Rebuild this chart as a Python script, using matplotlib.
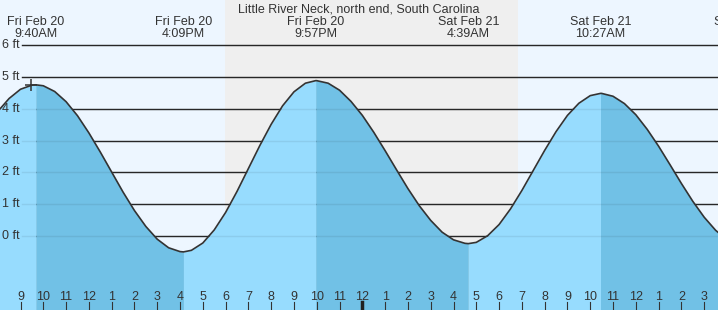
import matplotlib
matplotlib.use("Agg")
import matplotlib.pyplot as plt
import matplotlib.transforms as mtransforms
import numpy as np

plt.rcParams['font.family'] = ['Liberation Sans', 'DejaVu Sans']

title = "Little River Neck, north end, South Carolina"

# hours since Fri Feb 20 00:00, tide height in ft
hours = [8.0, 8.5, 9.0, 9.5, 9.667, 10.0, 10.5, 11.0, 11.5, 12.0, 12.5, 13.0,
         13.5, 14.0, 14.5, 15.0, 15.5, 16.0, 16.15, 16.5, 17.0, 17.5, 18.0,
         18.5, 19.0, 19.5, 20.0, 20.5, 21.0, 21.5, 21.95, 22.0, 22.5, 23.0,
         23.5, 24.0, 24.5, 25.0, 25.5, 26.0, 26.5, 27.0, 27.5, 28.0, 28.5,
         28.65, 29.0, 29.5, 30.0, 30.5, 31.0, 31.5, 32.0, 32.5, 33.0, 33.5,
         34.0, 34.45, 34.5, 35.0, 35.5, 36.0, 36.5, 37.0, 37.5, 38.0, 38.5,
         39.0, 39.5, 40.0]
height = [3.91, 4.32, 4.61, 4.74, 4.75, 4.72, 4.54, 4.22, 3.78, 3.24, 2.64, 2.01,
          1.38, 0.80, 0.30, -0.10, -0.37, -0.49, -0.50, -0.45, -0.22, 0.19, 0.74,
          1.40, 2.12, 2.84, 3.51, 4.09, 4.53, 4.80, 4.88, 4.88, 4.80, 4.58,
          4.23, 3.79, 3.26, 2.68, 2.08, 1.49, 0.95, 0.49, 0.12, -0.12, -0.23,
          -0.24, -0.20, 0.01, 0.36, 0.85, 1.43, 2.06, 2.69, 3.28, 3.79, 4.17,
          4.41, 4.48, 4.48, 4.39, 4.16, 3.81, 3.35, 2.82, 2.24, 1.65, 1.09,
          0.59, 0.18, -0.12]

# high / low events
event_hours = [9.667, 16.15, 21.95, 28.65, 34.45, 40.8]
event_day = ["Fri Feb 20", "Fri Feb 20", "Fri Feb 20", "Sat Feb 21", "Sat Feb 21", "Sat Feb 21"]
event_time = ["9:40AM", "4:09PM", "9:57PM", "4:39AM", "10:27AM", "4:48PM"]
falling = [(9.667, 16.15), (21.95, 28.65), (34.45, 40.0)]
rising = [(8.0, 9.667), (16.15, 21.95), (28.65, 34.45)]

night = (17.97, 30.83)
now_hour, now_ft = 9.46, 4.73
ft_levels = [0, 1, 2, 3, 4, 5, 6]
tick_hours = list(range(9, 40))

W, H = 718, 310
px = 22.79
x_lo = 9 - 20.5 / px
x_hi = 9 + (W - 20.5) / px
y_lo = -(H - 236) / 31.83
y_hi = 236 / 31.83

fig = plt.figure(figsize=(W / 100, H / 100), dpi=100)
fig.patch.set_facecolor('#EDF6FF')
ax = fig.add_axes([0, 0, 1, 1])
ax.set_xlim(x_lo, x_hi)
ax.set_ylim(y_lo, y_hi)
ax.axis('off')

ax.axvspan(night[0], night[1], color='#EFEFEF', zorder=0, lw=0)

for lv in ft_levels:
    ax.axhline(lv, xmin=22 / W, xmax=1, color='#2b2b2b', lw=1.0, zorder=1)
    ax.text(2 / W, lv, "%d ft" % lv, transform=mtransforms.blended_transform_factory(ax.transAxes, ax.transData),
            ha='left', va='center', fontsize=9, color='#333333')

h = np.array(hours)
v = np.array(height)
for a, b in rising:
    m = (h >= a) & (h <= b)
    ax.fill_between(h[m], v[m], y_lo, color='#97DCFE', lw=0, zorder=2)
for a, b in falling:
    m = (h >= a) & (h <= b)
    ax.fill_between(h[m], v[m], y_lo, color='#71C1E6', lw=0, zorder=2)

for lv in ft_levels:
    ax.axhline(lv, xmin=22 / W, xmax=1, color='#000000', alpha=0.07, lw=1.0, zorder=3)

ax.plot(h, v, color='#333333', lw=1.2, zorder=4)
ax.plot([now_hour], [now_ft], marker='+', ms=9, mew=1.1, color='#333333', zorder=5)

# header
fig.text(0.5, 1 - 12 / H, title, ha='center', va='baseline', fontsize=9, color='#333333')
tr = mtransforms.blended_transform_factory(ax.transData, fig.transFigure)
for eh, d, t in zip(event_hours, event_day, event_time):
    ax.text(eh, 1 - 25 / H, d, transform=tr, ha='center', va='baseline', fontsize=9, color='#333333')
    ax.text(eh, 1 - 37 / H, t, transform=tr, ha='center', va='baseline', fontsize=9, color='#333333')

# hour ticks
for th in tick_hours:
    lab = th % 12
    if lab == 0:
        lab = 12
    ax.text(th, 1 - 300 / H, str(lab), transform=tr, ha='center', va='baseline', fontsize=9, color='#333333', zorder=6)
    if th == 24:
        ax.plot([th, th], [y_lo, y_lo + 8 / 31.83], color='#222222', lw=2.5, zorder=6)
    else:
        ax.plot([th, th], [y_lo, y_lo + 8 / 31.83], color='#333333', lw=0.8, zorder=6)

fig.savefig('out.png', dpi=100, facecolor=fig.get_facecolor())
